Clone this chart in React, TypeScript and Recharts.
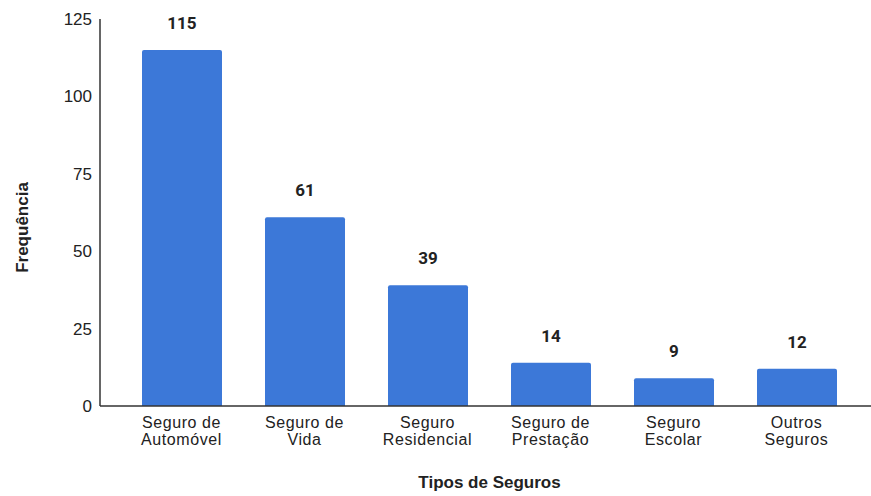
import React from 'react';
import { BarChart, Bar, XAxis, YAxis, LabelList, Label } from 'recharts';

const categories = [
  'Seguro de\nAutomóvel',
  'Seguro de\nVida',
  'Seguro\nResidencial',
  'Seguro de\nPrestação',
  'Seguro\nEscolar',
  'Outros\nSeguros',
];
const frequencies = [115, 61, 39, 14, 9, 12];
const yTicks = [0, 25, 50, 75, 100, 125];
const xTitle = 'Tipos de Seguros';
const yTitle = 'Frequência';

const data = categories.map((c, i) => ({ name: c, value: frequencies[i] }));

const tickFont = "'Liberation Sans', Arial, sans-serif";

const XTick = (props: any) => {
  const { x, y, payload } = props;
  const lines = String(payload.value).split('\n');
  return (
    <g>
      {lines.map((l: string, i: number) => (
        <text key={i} x={x} y={y + 14 + i * 17} textAnchor="middle" fill="#222" fontSize={16} letterSpacing={0.6} fontFamily={tickFont}>
          {l}
        </text>
      ))}
    </g>
  );
};

export default function App() {
  return (
    <div style={{ position: 'absolute', left: 0, top: 0, width: 871, height: 496, background: '#fff' }}>
      <BarChart
        width={871}
        height={496}
        data={data}
        margin={{ top: 19, right: 0, bottom: 30, left: 40 }}
      >
        <XAxis
          dataKey="name"
          tick={<XTick />}
          tickLine={false}
          axisLine={{ stroke: '#333', strokeWidth: 1.5 }}
          height={60}
          interval={0}
          padding={{ left: 20, right: 13 }}
        >
          <Label
            content={(p: any) => {
              const vb = p.viewBox;
              return (
                <text x={vb.x + vb.width / 2 + 4} y={vb.y + 82} textAnchor="middle" fontSize={17} fontWeight="bold" fill="#222" fontFamily={tickFont}>
                  {xTitle}
                </text>
              );
            }}
          />
        </XAxis>
        <YAxis
          domain={[0, 125]}
          ticks={yTicks}
          tickLine={false}
          axisLine={{ stroke: '#333', strokeWidth: 1.5 }}
          width={60}
          tick={{ fill: '#222', fontSize: 17, fontFamily: tickFont }}
        >
          <Label
            content={(p: any) => {
              const vb = p.viewBox;
              const cx = 28;
              const cy = vb.y + vb.height / 2 + 15;
              return (
                <text x={cx} y={cy} transform={`rotate(-90 ${cx} ${cy})`} textAnchor="middle" fontSize={17} fontWeight="bold" fill="#222" fontFamily={tickFont}>
                  {yTitle}
                </text>
              );
            }}
          />
        </YAxis>
        <Bar dataKey="value" fill="#3c78d8" barSize={80} radius={[2, 2, 0, 0]} isAnimationActive={false}>
          <LabelList dataKey="value" position="top" offset={21} fill="#222" fontSize={17} fontWeight="bold" fontFamily="Roboto, sans-serif" />
        </Bar>
      </BarChart>
    </div>
  );
}
